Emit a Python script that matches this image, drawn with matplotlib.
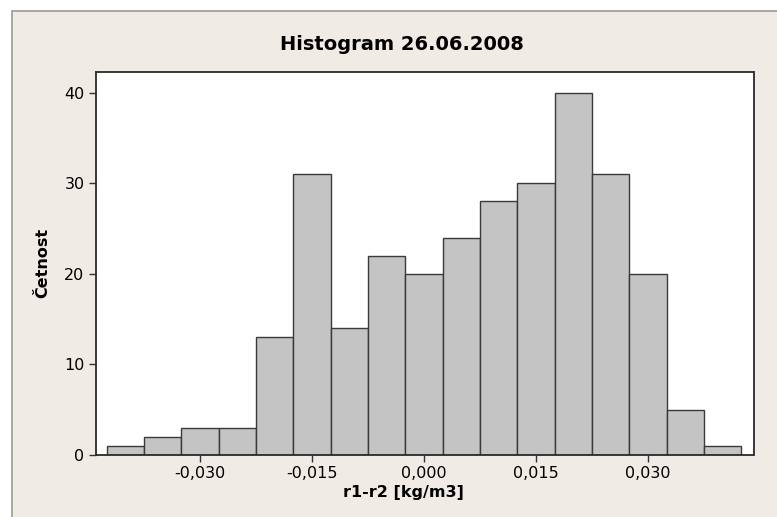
import matplotlib
matplotlib.use("Agg")
import matplotlib.pyplot as plt
from matplotlib.patches import Rectangle
import numpy as np

# Data
bin_centers = [-0.040, -0.035, -0.030, -0.025, -0.020, -0.015, -0.010, -0.005,
               0.000, 0.005, 0.010, 0.015, 0.020, 0.025, 0.030, 0.035, 0.040]
counts = [1, 2, 3, 3, 13, 31, 14, 22, 20, 24, 28, 30, 40, 31, 20, 5, 1]
bin_width = 0.005
x_ticks = [-0.030, -0.015, 0.000, 0.015, 0.030]
x_tick_labels = ["-0,030", "-0,015", "0,000", "0,015", "0,030"]
y_ticks = [0, 10, 20, 30, 40]

title = "Histogram 26.06.2008"
xlabel = "r1-r2 [kg/m3]"
ylabel = "Četnost"

plt.rcParams['font.family'] = ['DejaVu Sans']

W, H = 777, 517
fig = plt.figure(figsize=(W / 100, H / 100), dpi=100)
fig.patch.set_facecolor("white")

# outer frame
bg = Rectangle((12 / W, -0.1), 1.0, 1.1 - 10.5 / H, transform=fig.transFigure,
               facecolor="#F1EBE5", edgecolor="#9a9d94", linewidth=1.2, zorder=-10)
fig.patches.append(bg)

left, right, top, bottom = 95.7, 753.5, 72, 455
ax = fig.add_axes([left / W, 1 - bottom / H, (right - left) / W, (bottom - top) / H])
ax.set_zorder(5)
ax.set_facecolor("white")

ax.bar(bin_centers, counts, width=bin_width, color="#C4C4C4",
       edgecolor="#3a3a3a", linewidth=1.0, zorder=2)

ax.set_xlim(-0.04397, 0.04413)
ax.set_ylim(0, 42.3)
ax.set_xticks(x_ticks)
ax.set_xticklabels(x_tick_labels)
ax.set_yticks(y_ticks)
ax.tick_params(axis="both", direction="out", length=5, width=1, color="#333333",
               labelsize=11.5, pad=3, top=False, right=False)
for s in ax.spines.values():
    s.set_color("#2a2a2a")
    s.set_linewidth(1.3)

fig.text(402 / W, 1 - 45 / H, title, ha="center", va="center",
         fontsize=14, fontweight="bold", zorder=6)
fig.text(403 / W, 1 - 493 / H, xlabel, ha="center", va="center",
         fontsize=11.5, fontweight="bold", zorder=6)
fig.text(43 / W, 1 - 263 / H, ylabel, ha="center", va="center",
         fontsize=11.5, fontweight="bold", rotation=90, zorder=6)

fig.savefig("out.png", dpi=100)
